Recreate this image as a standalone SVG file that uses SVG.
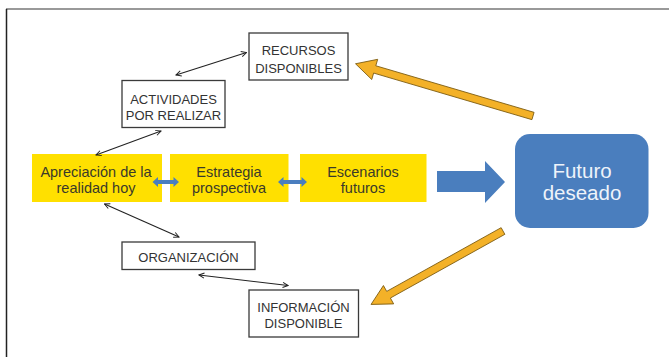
<svg xmlns="http://www.w3.org/2000/svg" width="669" height="357" viewBox="0 0 669 357">
<defs>
<style>
.wbox{fill:#fff;stroke:#3a3a3a;stroke-width:1.3}
.wt{font-family:"Liberation Sans",Arial,sans-serif;font-size:13px;fill:#333;text-anchor:middle}
.ybox{fill:#ffe000}
.yt{font-family:"Liberation Sans",Arial,sans-serif;font-size:14.5px;fill:#3a3a2a;text-anchor:middle}
.conn{stroke:#222;stroke-width:1.1;fill:none;marker-start:url(#ah);marker-end:url(#ah)}
.orange{fill:#f3b128;stroke:#7a5a10;stroke-width:0.8}
.blue{fill:#4a7ebe}
</style>
<marker id="ah" viewBox="0 0 8 8" refX="7" refY="4" markerWidth="7" markerHeight="7" orient="auto-start-reverse" markerUnits="userSpaceOnUse">
<path d="M1,1 L7,4 L1,7" fill="none" stroke="#222" stroke-width="1.1"/>
</marker>
</defs>
<rect width="669" height="357" fill="#fff"/>
<line x1="6" y1="9" x2="669" y2="9" stroke="#777" stroke-width="1.5"/>
<line x1="6.5" y1="9" x2="6.5" y2="357" stroke="#222" stroke-width="1.5"/>

<g id="recursos">
<rect class="wbox" x="249" y="33" width="99" height="47"/>
<text class="wt" x="298.5" y="55">RECURSOS</text>
<text class="wt" x="298.5" y="72.5">DISPONIBLES</text>
</g>
<g id="actividades">
<rect class="wbox" x="122" y="80.5" width="103" height="47"/>
<text class="wt" x="173.5" y="104">ACTIVIDADES</text>
<text class="wt" x="173.5" y="120">POR REALIZAR</text>
</g>
<g id="apreciacion">
<rect class="ybox" x="32" y="154" width="130" height="48"/>
<text class="yt" x="96" y="177">Apreciación de la</text>
<text class="yt" x="96" y="193">realidad hoy</text>
</g>
<g id="estrategia">
<rect class="ybox" x="170" y="154" width="118.5" height="48"/>
<text class="yt" x="229" y="177">Estrategia</text>
<text class="yt" x="229" y="193">prospectiva</text>
</g>
<g id="escenarios">
<rect class="ybox" x="300" y="154" width="126.5" height="48"/>
<text class="yt" x="363" y="177">Escenarios</text>
<text class="yt" x="363" y="193">futuros</text>
</g>
<g id="futuro">
<rect x="515" y="134" width="133.5" height="94" rx="15" fill="#4a7ebe"/>
<text x="582" y="178" font-family="'Liberation Sans',Arial,sans-serif" font-size="20.5" fill="#eef3fa" text-anchor="middle">Futuro</text>
<text x="582" y="200" font-family="'Liberation Sans',Arial,sans-serif" font-size="20.5" fill="#eef3fa" text-anchor="middle">deseado</text>
</g>
<g id="organizacion">
<rect class="wbox" x="122" y="242" width="133" height="27.5"/>
<text class="wt" x="188.5" y="261.5">ORGANIZACIÓN</text>
</g>
<g id="informacion">
<rect class="wbox" x="249" y="290" width="109.5" height="47"/>
<text class="wt" x="303.5" y="311.5">INFORMACIÓN</text>
<text class="wt" x="303.5" y="328">DISPONIBLE</text>
</g>

<g id="connectors">
<line class="conn" x1="176" y1="75" x2="246.5" y2="52.5"/>
<line class="conn" x1="161" y1="131" x2="96" y2="155"/>
<line class="conn" x1="104.5" y1="204" x2="179" y2="237"/>
<line class="conn" x1="199" y1="275" x2="288" y2="285.5"/>
<polygon class="blue" points="152.5,182 158,177 158,180 173.5,180 173.5,177 179,182 173.5,187 173.5,184 158,184 158,187"/>
<polygon class="blue" points="278,182 283.5,177 283.5,180 301.5,180 301.5,177 307,182 301.5,187 301.5,184 283.5,184 283.5,187"/>
<polygon class="blue" points="437,171 485,171 485,161 505,182 485,203 485,192 437,192"/>
<polygon class="orange" transform="translate(533,116) rotate(196.4)" points="0,-3.8 165,-3.8 165,-10.5 185,0 165,10.5 165,3.8 0,3.8"/>
<polygon class="orange" transform="translate(503,231) rotate(150.9)" points="0,-3.8 131,-3.8 131,-10.5 151,0 131,10.5 131,3.8 0,3.8"/>
</g>
</svg>
